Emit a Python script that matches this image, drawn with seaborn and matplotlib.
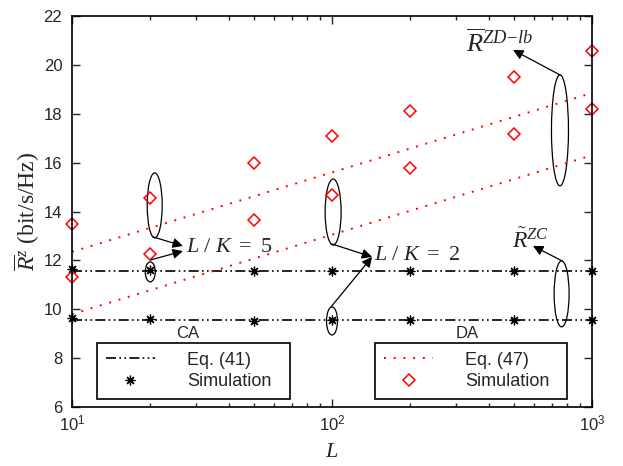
import numpy as np
import seaborn as sns
import matplotlib.pyplot as plt
from matplotlib.lines import Line2D
from matplotlib.patches import Ellipse
from matplotlib.transforms import ScaledTranslation

# number of antennas L
L = [10, 20, 50, 100, 200, 500, 1000]

# CA: Eq. (41) and simulation, two curves (L/K = 5 upper, L/K = 2 lower)
ca_eq_hi = [11.57, 11.57, 11.57, 11.57, 11.57, 11.57, 11.57]
ca_eq_lo = [9.56, 9.56, 9.56, 9.56, 9.56, 9.56, 9.56]
ca_sim_hi = [11.65, 11.61, 11.58, 11.58, 11.57, 11.57, 11.57]
ca_sim_lo = [9.66, 9.60, 9.53, 9.56, 9.56, 9.56, 9.56]

# DA: Eq. (47) and simulation
da_eq_hi = [12.35, 13.33, 14.62, 15.60, 16.58, 17.87, 18.85]
da_eq_lo = [9.80, 10.78, 12.07, 13.05, 14.03, 15.32, 16.30]
da_sim_hi = [13.50, 14.55, 16.00, 17.10, 18.10, 19.50, 20.55]
da_sim_lo = [11.30, 12.25, 13.65, 14.68, 15.77, 17.17, 18.20]

sns.set_style('ticks')
plt.rcParams['font.family'] = ['Liberation Sans', 'DejaVu Sans']
plt.rcParams['mathtext.fontset'] = 'custom'
plt.rcParams['mathtext.rm'] = 'Liberation Serif'
plt.rcParams['mathtext.it'] = 'Liberation Serif:italic'
plt.rcParams['mathtext.sf'] = 'Liberation Sans'

fig = plt.figure(figsize=(6.23, 4.66), dpi=100)
ax = fig.add_axes([72 / 623, 59 / 466, 520 / 623, 391 / 466])

dashdot2 = (0, (6, 2, 1, 2, 1, 2))
dotted = (0, (1, 4))

for ys in (ca_eq_hi, ca_eq_lo):
    sns.lineplot(x=L, y=ys, ax=ax, color='black', lw=1.2, linestyle=dashdot2)
for ys in (da_eq_hi, da_eq_lo):
    sns.lineplot(x=L, y=ys, ax=ax, color='red', lw=1.4, linestyle=dotted)

star = (8, 2, 0)
for ys in (ca_sim_hi, ca_sim_lo):
    ax.plot(L, ys, ls='none', marker=star, ms=7, mew=0.9, color='black', clip_on=False)
for ys in (da_sim_hi, da_sim_lo):
    ax.plot(L, ys, ls='none', marker='D', ms=6, mew=1.1, mfc='none', mec='red', clip_on=False)

ax.set_xscale('log')
ax.set_xlim(10, 1000)
ax.set_ylim(6, 22)
ax.set_yticks(np.arange(6, 23, 2))
ax.tick_params(which='both', direction='in', top=True, right=True, labelsize=12, width=1)
ax.tick_params(which='major', length=6)
ax.tick_params(which='minor', length=3)
ax.tick_params(axis='y', pad=7)
ax.tick_params(axis='x', pad=5)
for s in ax.spines.values():
    s.set_linewidth(1.2)
    s.set_color('black')

ax.set_xlabel(r'$L$', fontsize=16, labelpad=5)
ax.set_ylabel(r'$\overline{R}^{z}$ (bit/s/Hz)', fontsize=17, family='Liberation Serif', labelpad=1)


def ring(x, y, w, h):
    tr = fig.dpi_scale_trans + ScaledTranslation(x, y, ax.transData)
    ax.add_patch(Ellipse((0, 0), w / 100, h / 100, transform=tr, fill=False, ec='black', lw=0.9))


def arrow(x0, y0, x1, y1):
    ax.annotate('', xy=(x1, y1), xytext=(x0, y0),
                arrowprops=dict(arrowstyle='-|>', color='black', lw=0.9,
                                mutation_scale=15, shrinkA=0, shrinkB=0))


ring(20.8, 14.25, 15, 65)
ring(20, 11.53, 10, 20)
ring(101, 13.98, 16, 66)
ring(100, 9.52, 11, 28)
ring(753, 17.32, 17, 111)
ring(764, 10.63, 15, 66)

arrow(20.5, 12.96, 26.7, 12.59)
arrow(20.1, 12.02, 26.7, 12.38)
arrow(100, 12.67, 142.6, 12.14)
arrow(99, 10.09, 142.6, 12.14)
arrow(753, 19.59, 497, 20.61)
arrow(767, 11.98, 593, 12.59)

ax.text(27.45, 12.55, r'$L\ /\ K\ =\ 5$', fontsize=16, va='center', ha='left')
ax.text(145, 12.22, r'$L\ /\ K\ =\ 2$', fontsize=16, va='center', ha='left')
ax.text(327, 20.53, r'$\overline{R}^{ZD\!-\!lb}$', fontsize=19, va='baseline', ha='left')
ax.text(492, 12.51, r'$\tilde{R}^{ZC}$', fontsize=17, va='baseline', ha='left')

ax.text(0.223, 0.187, 'CA', transform=ax.transAxes, fontsize=12, ha='center', va='center')
ax.text(0.76, 0.187, 'DA', transform=ax.transAxes, fontsize=12, ha='center', va='center')

ca_handles = [Line2D([], [], color='black', lw=1.2, linestyle=dashdot2),
              Line2D([], [], ls='none', marker=star, ms=7, mew=0.9, color='black')]
da_handles = [Line2D([], [], color='red', lw=1.4, linestyle=dotted),
              Line2D([], [], ls='none', marker='D', ms=6, mew=1.1, mfc='none', mec='red')]

leg_kw = dict(loc='lower left', mode='expand', borderaxespad=0, fontsize=13,
              fancybox=False, framealpha=1, edgecolor='black', handlelength=2.7,
              handletextpad=1.8, borderpad=0.5, labelspacing=0.25)
leg1 = ax.legend(ca_handles, ['Eq. (41)', 'Simulation'],
                 bbox_to_anchor=(0.048, 0.02, 0.371, 0.143), **leg_kw)
leg1.get_frame().set_linewidth(1.2)
ax.add_artist(leg1)
leg2 = ax.legend(da_handles, ['Eq. (47)', 'Simulation'],
                 bbox_to_anchor=(0.583, 0.02, 0.369, 0.143), **leg_kw)
leg2.get_frame().set_linewidth(1.2)

plt.savefig('out.png', dpi=100)
